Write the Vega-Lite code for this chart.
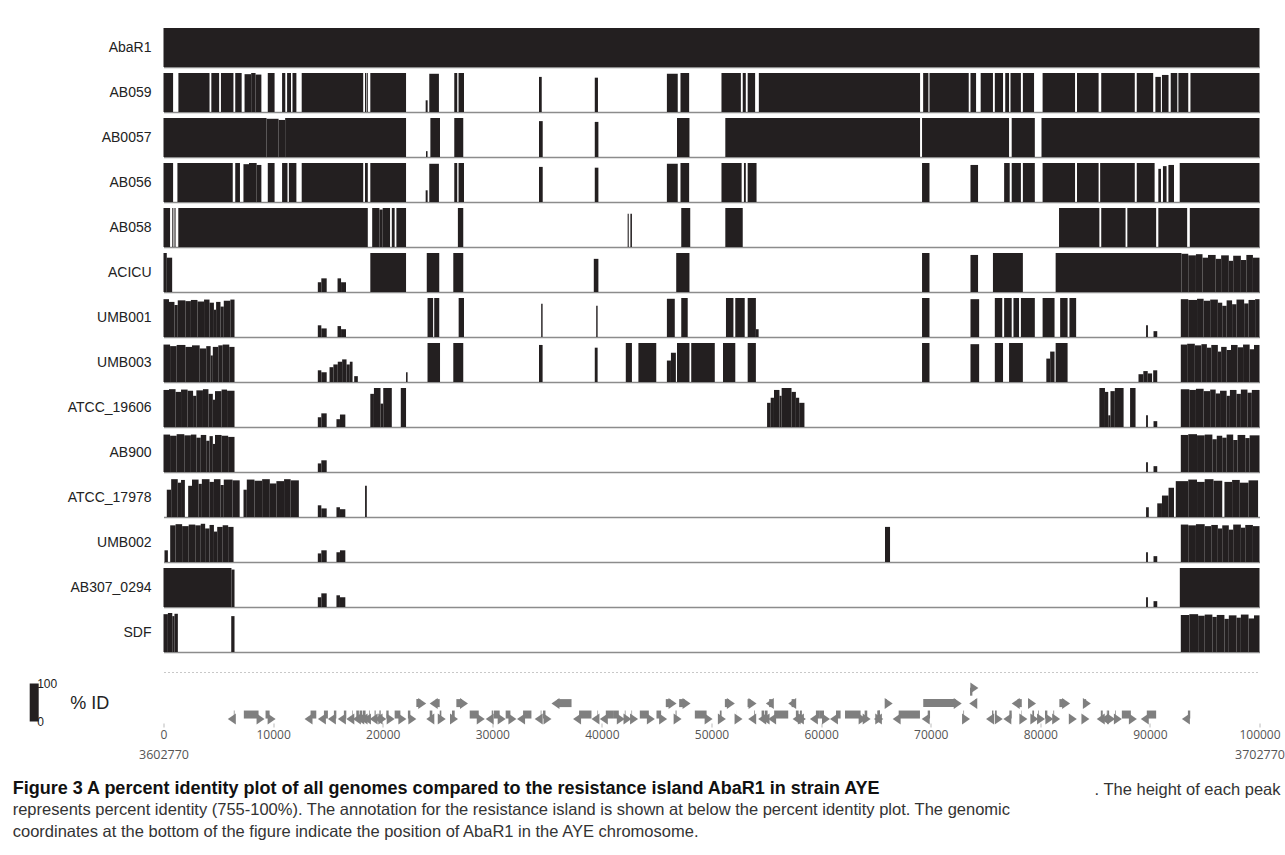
{
"$schema": "https://vega.github.io/schema/vega-lite/v6.json",
"padding": {"left": 12.5, "top": 28, "right": 0, "bottom": 0},
"background": "white",
"config": {"view": {"stroke": null}, "font": "Liberation Sans", "axis": {"grid": false}},
"spacing": 20,
"title": {
  "text": "Figure 3 A percent identity plot of all genomes compared to the resistance island AbaR1 in strain AYE",
  "subtitle": ["represents percent identity (755-100%). The annotation for the resistance island is shown at below the percent identity plot. The genomic", "coordinates at the bottom of the figure indicate the position of AbaR1 in the AYE chromosome."],
  "orient": "bottom", "anchor": "start", "frame": "bounds", "dx": -21, "offset": -18,
  "font": "Liberation Sans", "fontSize": 18, "fontWeight": "bold", "color": "#111",
  "subtitleFont": "Liberation Sans", "subtitleFontSize": 16.5, "subtitleColor": "#333", "subtitleFontWeight": "normal", "subtitleLineHeight": 22, "subtitlePadding": 4
},
"datasets": {
"legend": [{"v": 0}, {"v": 100}],
"pid": [
{"g":"AbaR1","s":0,"e":100000,"p":100},

{"g":"AB059","s":0,"e":876,"p":100},{"g":"AB059","s":1360,"e":4200,"p":100},{"g":"AB059","s":4364,"e":5077,"p":100},{"g":"AB059","s":5241,"e":6382,"p":100},{"g":"AB059","s":6546,"e":7131,"p":100},{"g":"AB059","s":7395,"e":8000,"p":97},{"g":"AB059","s":8000,"e":8400,"p":100},{"g":"AB059","s":8400,"e":8930,"p":96},{"g":"AB059","s":9514,"e":10135,"p":100},{"g":"AB059","s":10819,"e":11113,"p":100},{"g":"AB059","s":11276,"e":11632,"p":100},{"g":"AB059","s":11769,"e":12125,"p":100},{"g":"AB059","s":12610,"e":18222,"p":100},{"g":"AB059","s":18386,"e":18500,"p":100},{"g":"AB059","s":18550,"e":18641,"p":100},{"g":"AB059","s":18870,"e":22130,"p":100},{"g":"AB059","s":23920,"e":24100,"p":30},{"g":"AB059","s":24250,"e":25130,"p":98},{"g":"AB059","s":26530,"e":26800,"p":100},{"g":"AB059","s":26920,"e":27420,"p":100},{"g":"AB059","s":34260,"e":34510,"p":90},{"g":"AB059","s":39350,"e":39640,"p":88},{"g":"AB059","s":45930,"e":46920,"p":98},{"g":"AB059","s":47170,"e":47960,"p":100},{"g":"AB059","s":50910,"e":52680,"p":100},{"g":"AB059","s":52850,"e":53130,"p":100},{"g":"AB059","s":53300,"e":53980,"p":100},{"g":"AB059","s":54320,"e":69030,"p":100},{"g":"AB059","s":69310,"e":69790,"p":100},{"g":"AB059","s":69890,"e":73470,"p":100},{"g":"AB059","s":73630,"e":74140,"p":100},{"g":"AB059","s":74560,"e":75680,"p":100},{"g":"AB059","s":75850,"e":76600,"p":100},{"g":"AB059","s":76800,"e":77150,"p":100},{"g":"AB059","s":77280,"e":78230,"p":100},{"g":"AB059","s":78410,"e":79430,"p":100},{"g":"AB059","s":80210,"e":83170,"p":100},{"g":"AB059","s":83350,"e":85320,"p":100},{"g":"AB059","s":85560,"e":88620,"p":100},{"g":"AB059","s":88800,"e":90300,"p":100},{"g":"AB059","s":90500,"e":91000,"p":90},{"g":"AB059","s":91100,"e":91700,"p":95},{"g":"AB059","s":91900,"e":92500,"p":100},{"g":"AB059","s":92600,"e":93500,"p":100},{"g":"AB059","s":93700,"e":100000,"p":100},

{"g":"AB0057","s":0,"e":9400,"p":100},{"g":"AB0057","s":9400,"e":10500,"p":98},{"g":"AB0057","s":10500,"e":11100,"p":95},{"g":"AB0057","s":11100,"e":22130,"p":100},{"g":"AB0057","s":23950,"e":24090,"p":15},{"g":"AB0057","s":24350,"e":25230,"p":100},{"g":"AB0057","s":26530,"e":27350,"p":100},{"g":"AB0057","s":34260,"e":34600,"p":92},{"g":"AB0057","s":39350,"e":39680,"p":90},{"g":"AB0057","s":46850,"e":47990,"p":100},{"g":"AB0057","s":51260,"e":69030,"p":100},{"g":"AB0057","s":69210,"e":77150,"p":100},{"g":"AB0057","s":77390,"e":79500,"p":100},{"g":"AB0057","s":80110,"e":100000,"p":100},

{"g":"AB056","s":0,"e":876,"p":100},{"g":"AB056","s":1270,"e":6318,"p":100},{"g":"AB056","s":6546,"e":6976,"p":100},{"g":"AB056","s":7295,"e":7800,"p":97},{"g":"AB056","s":7800,"e":8500,"p":100},{"g":"AB056","s":8500,"e":8930,"p":95},{"g":"AB056","s":9514,"e":10135,"p":100},{"g":"AB056","s":10819,"e":11312,"p":100},{"g":"AB056","s":11440,"e":12125,"p":100},{"g":"AB056","s":12610,"e":18222,"p":100},{"g":"AB056","s":18386,"e":18641,"p":100},{"g":"AB056","s":18870,"e":22130,"p":100},{"g":"AB056","s":23920,"e":24100,"p":30},{"g":"AB056","s":24250,"e":25130,"p":98},{"g":"AB056","s":26530,"e":26800,"p":100},{"g":"AB056","s":26920,"e":27420,"p":100},{"g":"AB056","s":34260,"e":34600,"p":90},{"g":"AB056","s":39350,"e":39680,"p":88},{"g":"AB056","s":45930,"e":46920,"p":98},{"g":"AB056","s":47170,"e":47960,"p":100},{"g":"AB056","s":50910,"e":52750,"p":100},{"g":"AB056","s":52960,"e":53130,"p":100},{"g":"AB056","s":53300,"e":54110,"p":100},{"g":"AB056","s":69210,"e":69890,"p":100},{"g":"AB056","s":73630,"e":74320,"p":95},{"g":"AB056","s":76700,"e":77210,"p":100},{"g":"AB056","s":77390,"e":78230,"p":100},{"g":"AB056","s":78410,"e":79500,"p":100},{"g":"AB056","s":80210,"e":83170,"p":100},{"g":"AB056","s":83350,"e":85320,"p":100},{"g":"AB056","s":85460,"e":88620,"p":100},{"g":"AB056","s":88800,"e":90430,"p":100},{"g":"AB056","s":90770,"e":91010,"p":85},{"g":"AB056","s":91190,"e":91520,"p":92},{"g":"AB056","s":91690,"e":92200,"p":95},{"g":"AB056","s":92720,"e":100000,"p":100},

{"g":"AB058","s":0,"e":600,"p":100},{"g":"AB058","s":800,"e":900,"p":100},{"g":"AB058","s":1000,"e":1100,"p":100},{"g":"AB058","s":1350,"e":18640,"p":100},{"g":"AB058","s":19040,"e":19700,"p":100},{"g":"AB058","s":19700,"e":20000,"p":96},{"g":"AB058","s":20000,"e":20670,"p":100},{"g":"AB058","s":20830,"e":21090,"p":100},{"g":"AB058","s":21250,"e":22130,"p":100},{"g":"AB058","s":26860,"e":27350,"p":100},{"g":"AB058","s":42350,"e":42450,"p":85},{"g":"AB058","s":42600,"e":42740,"p":85},{"g":"AB058","s":47240,"e":48060,"p":100},{"g":"AB058","s":51260,"e":52850,"p":100},{"g":"AB058","s":81710,"e":85390,"p":100},{"g":"AB058","s":85560,"e":87780,"p":100},{"g":"AB058","s":87940,"e":90570,"p":100},{"g":"AB058","s":90770,"e":93400,"p":100},{"g":"AB058","s":93640,"e":100000,"p":100},

{"g":"ACICU","s":0,"e":300,"p":100},{"g":"ACICU","s":300,"e":790,"p":88},{"g":"ACICU","s":14080,"e":14400,"p":25},{"g":"ACICU","s":14400,"e":14890,"p":35},{"g":"ACICU","s":15880,"e":16200,"p":35},{"g":"ACICU","s":16200,"e":16650,"p":25},{"g":"ACICU","s":18870,"e":22130,"p":100},{"g":"ACICU","s":24020,"e":25160,"p":100},{"g":"ACICU","s":26440,"e":27350,"p":100},{"g":"ACICU","s":39260,"e":39680,"p":85},{"g":"ACICU","s":46780,"e":47990,"p":100},{"g":"ACICU","s":69210,"e":69890,"p":100},{"g":"ACICU","s":73630,"e":74320,"p":95},{"g":"ACICU","s":75680,"e":78410,"p":100},{"g":"ACICU","s":81400,"e":92880,"p":100},{"g":"ACICU","s":92880,"e":93500,"p":98},{"g":"ACICU","s":93500,"e":94200,"p":94},{"g":"ACICU","s":94200,"e":94800,"p":97},{"g":"ACICU","s":94800,"e":95300,"p":88},{"g":"ACICU","s":95300,"e":96000,"p":95},{"g":"ACICU","s":96000,"e":96500,"p":85},{"g":"ACICU","s":96500,"e":97200,"p":94},{"g":"ACICU","s":97200,"e":97600,"p":80},{"g":"ACICU","s":97600,"e":98300,"p":93},{"g":"ACICU","s":98300,"e":98800,"p":82},{"g":"ACICU","s":98800,"e":99400,"p":95},{"g":"ACICU","s":99400,"e":100000,"p":88},

{"g":"UMB001","s":0,"e":500,"p":97},{"g":"UMB001","s":500,"e":1000,"p":90},{"g":"UMB001","s":1000,"e":1300,"p":82},{"g":"UMB001","s":1300,"e":2000,"p":94},{"g":"UMB001","s":2000,"e":2500,"p":92},{"g":"UMB001","s":2500,"e":3100,"p":95},{"g":"UMB001","s":3100,"e":3700,"p":91},{"g":"UMB001","s":3700,"e":4200,"p":96},{"g":"UMB001","s":4200,"e":4600,"p":88},{"g":"UMB001","s":4600,"e":4800,"p":70},{"g":"UMB001","s":4800,"e":5200,"p":90},{"g":"UMB001","s":5200,"e":5500,"p":78},{"g":"UMB001","s":5500,"e":6100,"p":93},{"g":"UMB001","s":6100,"e":6480,"p":96},{"g":"UMB001","s":14080,"e":14400,"p":30},{"g":"UMB001","s":14400,"e":14890,"p":22},{"g":"UMB001","s":15880,"e":16200,"p":28},{"g":"UMB001","s":16200,"e":16650,"p":20},{"g":"UMB001","s":24090,"e":24600,"p":100},{"g":"UMB001","s":24700,"e":25160,"p":100},{"g":"UMB001","s":26930,"e":27420,"p":100},{"g":"UMB001","s":34460,"e":34590,"p":85},{"g":"UMB001","s":39480,"e":39610,"p":80},{"g":"UMB001","s":45930,"e":46650,"p":98},{"g":"UMB001","s":47240,"e":47830,"p":100},{"g":"UMB001","s":51320,"e":52000,"p":100},{"g":"UMB001","s":52170,"e":53030,"p":100},{"g":"UMB001","s":53300,"e":54050,"p":100},{"g":"UMB001","s":54050,"e":54300,"p":20},{"g":"UMB001","s":69210,"e":69890,"p":100},{"g":"UMB001","s":73630,"e":74420,"p":97},{"g":"UMB001","s":75850,"e":76530,"p":100},{"g":"UMB001","s":76700,"e":77390,"p":100},{"g":"UMB001","s":77550,"e":78060,"p":100},{"g":"UMB001","s":78230,"e":79500,"p":100},{"g":"UMB001","s":80210,"e":81300,"p":100},{"g":"UMB001","s":81810,"e":82490,"p":100},{"g":"UMB001","s":82660,"e":83270,"p":100},{"g":"UMB001","s":89650,"e":89820,"p":30},{"g":"UMB001","s":90330,"e":90670,"p":15},{"g":"UMB001","s":92820,"e":93500,"p":97},{"g":"UMB001","s":93500,"e":94300,"p":95},{"g":"UMB001","s":94300,"e":94900,"p":98},{"g":"UMB001","s":94900,"e":95500,"p":93},{"g":"UMB001","s":95500,"e":96200,"p":96},{"g":"UMB001","s":96200,"e":96600,"p":88},{"g":"UMB001","s":96600,"e":97000,"p":80},{"g":"UMB001","s":97000,"e":97500,"p":94},{"g":"UMB001","s":97500,"e":97900,"p":84},{"g":"UMB001","s":97900,"e":98600,"p":96},{"g":"UMB001","s":98600,"e":99000,"p":86},{"g":"UMB001","s":99000,"e":99600,"p":95},{"g":"UMB001","s":99600,"e":100000,"p":97},

{"g":"UMB003","s":0,"e":600,"p":96},{"g":"UMB003","s":600,"e":1200,"p":92},{"g":"UMB003","s":1200,"e":2000,"p":95},{"g":"UMB003","s":2000,"e":2600,"p":90},{"g":"UMB003","s":2600,"e":3300,"p":94},{"g":"UMB003","s":3300,"e":3900,"p":86},{"g":"UMB003","s":3900,"e":4300,"p":92},{"g":"UMB003","s":4300,"e":4500,"p":68},{"g":"UMB003","s":4500,"e":5000,"p":90},{"g":"UMB003","s":5000,"e":5400,"p":94},{"g":"UMB003","s":5400,"e":6000,"p":96},{"g":"UMB003","s":6000,"e":6480,"p":90},{"g":"UMB003","s":14080,"e":14400,"p":30},{"g":"UMB003","s":14400,"e":14890,"p":25},{"g":"UMB003","s":15150,"e":15500,"p":38},{"g":"UMB003","s":15500,"e":15900,"p":45},{"g":"UMB003","s":15900,"e":16300,"p":52},{"g":"UMB003","s":16300,"e":16700,"p":58},{"g":"UMB003","s":16700,"e":17000,"p":45},{"g":"UMB003","s":17000,"e":17250,"p":52},{"g":"UMB003","s":17400,"e":17730,"p":15},{"g":"UMB003","s":22130,"e":22270,"p":25},{"g":"UMB003","s":24090,"e":25230,"p":100},{"g":"UMB003","s":26440,"e":27350,"p":100},{"g":"UMB003","s":34260,"e":34590,"p":95},{"g":"UMB003","s":39350,"e":39610,"p":88},{"g":"UMB003","s":42180,"e":42740,"p":100},{"g":"UMB003","s":43330,"e":44960,"p":100},{"g":"UMB003","s":45930,"e":46300,"p":55},{"g":"UMB003","s":46300,"e":46750,"p":75},{"g":"UMB003","s":46850,"e":47990,"p":100},{"g":"UMB003","s":48150,"e":50300,"p":100},{"g":"UMB003","s":51050,"e":52170,"p":100},{"g":"UMB003","s":53300,"e":54050,"p":100},{"g":"UMB003","s":69210,"e":69890,"p":100},{"g":"UMB003","s":73630,"e":74420,"p":97},{"g":"UMB003","s":75850,"e":76600,"p":100},{"g":"UMB003","s":77150,"e":78410,"p":100},{"g":"UMB003","s":80550,"e":80900,"p":60},{"g":"UMB003","s":80900,"e":81300,"p":78},{"g":"UMB003","s":81400,"e":82490,"p":100},{"g":"UMB003","s":88960,"e":89400,"p":20},{"g":"UMB003","s":89400,"e":89800,"p":28},{"g":"UMB003","s":89800,"e":90200,"p":22},{"g":"UMB003","s":90300,"e":90670,"p":30},{"g":"UMB003","s":92820,"e":93400,"p":96},{"g":"UMB003","s":93400,"e":94100,"p":98},{"g":"UMB003","s":94100,"e":94700,"p":94},{"g":"UMB003","s":94700,"e":95200,"p":97},{"g":"UMB003","s":95200,"e":95600,"p":88},{"g":"UMB003","s":95600,"e":96200,"p":95},{"g":"UMB003","s":96200,"e":96500,"p":78},{"g":"UMB003","s":96500,"e":97000,"p":90},{"g":"UMB003","s":97000,"e":97400,"p":82},{"g":"UMB003","s":97400,"e":98000,"p":95},{"g":"UMB003","s":98000,"e":98500,"p":89},{"g":"UMB003","s":98500,"e":99100,"p":96},{"g":"UMB003","s":99100,"e":99500,"p":84},{"g":"UMB003","s":99500,"e":100000,"p":95},

{"g":"ATCC_19606","s":0,"e":500,"p":95},{"g":"ATCC_19606","s":500,"e":1100,"p":97},{"g":"ATCC_19606","s":1100,"e":1600,"p":90},{"g":"ATCC_19606","s":1600,"e":2200,"p":96},{"g":"ATCC_19606","s":2200,"e":2700,"p":93},{"g":"ATCC_19606","s":2700,"e":3000,"p":80},{"g":"ATCC_19606","s":3000,"e":3600,"p":94},{"g":"ATCC_19606","s":3600,"e":4100,"p":97},{"g":"ATCC_19606","s":4100,"e":4500,"p":85},{"g":"ATCC_19606","s":4500,"e":4700,"p":70},{"g":"ATCC_19606","s":4700,"e":5300,"p":92},{"g":"ATCC_19606","s":5300,"e":5800,"p":96},{"g":"ATCC_19606","s":5800,"e":6480,"p":93},{"g":"ATCC_19606","s":14080,"e":14400,"p":25},{"g":"ATCC_19606","s":14400,"e":14890,"p":35},{"g":"ATCC_19606","s":15780,"e":16100,"p":20},{"g":"ATCC_19606","s":16100,"e":16590,"p":32},{"g":"ATCC_19606","s":18870,"e":19200,"p":85},{"g":"ATCC_19606","s":19200,"e":19800,"p":100},{"g":"ATCC_19606","s":19800,"e":20050,"p":60},{"g":"ATCC_19606","s":20050,"e":20830,"p":100},{"g":"ATCC_19606","s":21650,"e":22130,"p":100},{"g":"ATCC_19606","s":55070,"e":55400,"p":62},{"g":"ATCC_19606","s":55400,"e":55700,"p":75},{"g":"ATCC_19606","s":55700,"e":56200,"p":95},{"g":"ATCC_19606","s":56200,"e":56400,"p":80},{"g":"ATCC_19606","s":56400,"e":57300,"p":100},{"g":"ATCC_19606","s":57300,"e":57700,"p":90},{"g":"ATCC_19606","s":57700,"e":58000,"p":75},{"g":"ATCC_19606","s":58000,"e":58480,"p":62},{"g":"ATCC_19606","s":85390,"e":85900,"p":100},{"g":"ATCC_19606","s":85900,"e":86200,"p":90},{"g":"ATCC_19606","s":86200,"e":86400,"p":30},{"g":"ATCC_19606","s":86400,"e":86800,"p":92},{"g":"ATCC_19606","s":86800,"e":87600,"p":100},{"g":"ATCC_19606","s":88190,"e":88690,"p":100},{"g":"ATCC_19606","s":89650,"e":89820,"p":30},{"g":"ATCC_19606","s":90330,"e":90670,"p":15},{"g":"ATCC_19606","s":92820,"e":93600,"p":97},{"g":"ATCC_19606","s":93600,"e":94200,"p":95},{"g":"ATCC_19606","s":94200,"e":94900,"p":98},{"g":"ATCC_19606","s":94900,"e":95500,"p":92},{"g":"ATCC_19606","s":95500,"e":96000,"p":96},{"g":"ATCC_19606","s":96000,"e":96400,"p":86},{"g":"ATCC_19606","s":96400,"e":97000,"p":93},{"g":"ATCC_19606","s":97000,"e":97300,"p":80},{"g":"ATCC_19606","s":97300,"e":97900,"p":95},{"g":"ATCC_19606","s":97900,"e":98300,"p":85},{"g":"ATCC_19606","s":98300,"e":98900,"p":96},{"g":"ATCC_19606","s":98900,"e":99300,"p":88},{"g":"ATCC_19606","s":99300,"e":100000,"p":95},

{"g":"AB900","s":0,"e":600,"p":96},{"g":"AB900","s":600,"e":1200,"p":93},{"g":"AB900","s":1200,"e":1900,"p":97},{"g":"AB900","s":1900,"e":2500,"p":94},{"g":"AB900","s":2500,"e":3000,"p":96},{"g":"AB900","s":3000,"e":3400,"p":88},{"g":"AB900","s":3400,"e":3900,"p":95},{"g":"AB900","s":3900,"e":4200,"p":80},{"g":"AB900","s":4200,"e":4500,"p":92},{"g":"AB900","s":4500,"e":4700,"p":72},{"g":"AB900","s":4700,"e":5300,"p":95},{"g":"AB900","s":5300,"e":5900,"p":93},{"g":"AB900","s":5900,"e":6480,"p":90},{"g":"AB900","s":14080,"e":14400,"p":22},{"g":"AB900","s":14400,"e":14890,"p":30},{"g":"AB900","s":89650,"e":89820,"p":25},{"g":"AB900","s":90330,"e":90670,"p":15},{"g":"AB900","s":92820,"e":93500,"p":95},{"g":"AB900","s":93500,"e":94300,"p":97},{"g":"AB900","s":94300,"e":95000,"p":94},{"g":"AB900","s":95000,"e":95700,"p":96},{"g":"AB900","s":95700,"e":96100,"p":84},{"g":"AB900","s":96100,"e":96600,"p":93},{"g":"AB900","s":96600,"e":97000,"p":88},{"g":"AB900","s":97000,"e":97600,"p":96},{"g":"AB900","s":97600,"e":98000,"p":82},{"g":"AB900","s":98000,"e":98700,"p":95},{"g":"AB900","s":98700,"e":99100,"p":87},{"g":"AB900","s":99100,"e":100000,"p":94},

{"g":"ATCC_17978","s":300,"e":700,"p":70},{"g":"ATCC_17978","s":700,"e":1300,"p":97},{"g":"ATCC_17978","s":1300,"e":1600,"p":88},{"g":"ATCC_17978","s":1600,"e":1950,"p":95},{"g":"ATCC_17978","s":2250,"e":2600,"p":80},{"g":"ATCC_17978","s":2600,"e":3200,"p":96},{"g":"ATCC_17978","s":3200,"e":3500,"p":85},{"g":"ATCC_17978","s":3500,"e":4200,"p":97},{"g":"ATCC_17978","s":4200,"e":4600,"p":90},{"g":"ATCC_17978","s":4600,"e":5200,"p":97},{"g":"ATCC_17978","s":5200,"e":5500,"p":82},{"g":"ATCC_17978","s":5500,"e":6300,"p":96},{"g":"ATCC_17978","s":6300,"e":6950,"p":94},{"g":"ATCC_17978","s":7300,"e":7600,"p":70},{"g":"ATCC_17978","s":7600,"e":8300,"p":96},{"g":"ATCC_17978","s":8300,"e":9000,"p":93},{"g":"ATCC_17978","s":9000,"e":9700,"p":97},{"g":"ATCC_17978","s":9700,"e":10300,"p":86},{"g":"ATCC_17978","s":10300,"e":11000,"p":92},{"g":"ATCC_17978","s":11000,"e":11600,"p":97},{"g":"ATCC_17978","s":11600,"e":12350,"p":94},{"g":"ATCC_17978","s":14080,"e":14400,"p":30},{"g":"ATCC_17978","s":14400,"e":14890,"p":22},{"g":"ATCC_17978","s":15780,"e":16100,"p":25},{"g":"ATCC_17978","s":16100,"e":16590,"p":20},{"g":"ATCC_17978","s":18390,"e":18550,"p":80},{"g":"ATCC_17978","s":89650,"e":89900,"p":25},{"g":"ATCC_17978","s":90670,"e":91100,"p":35},{"g":"ATCC_17978","s":91100,"e":91700,"p":55},{"g":"ATCC_17978","s":91700,"e":92200,"p":75},{"g":"ATCC_17978","s":92360,"e":93500,"p":92},{"g":"ATCC_17978","s":93500,"e":94300,"p":96},{"g":"ATCC_17978","s":94300,"e":95000,"p":90},{"g":"ATCC_17978","s":95000,"e":95800,"p":97},{"g":"ATCC_17978","s":95800,"e":96600,"p":93},{"g":"ATCC_17978","s":96800,"e":97500,"p":90},{"g":"ATCC_17978","s":97500,"e":98200,"p":95},{"g":"ATCC_17978","s":98200,"e":99000,"p":88},{"g":"ATCC_17978","s":99000,"e":99870,"p":94},

{"g":"UMB002","s":90,"e":400,"p":30},{"g":"UMB002","s":610,"e":1100,"p":94},{"g":"UMB002","s":1100,"e":1700,"p":97},{"g":"UMB002","s":1700,"e":2300,"p":92},{"g":"UMB002","s":2300,"e":2900,"p":96},{"g":"UMB002","s":2900,"e":3400,"p":94},{"g":"UMB002","s":3400,"e":3800,"p":98},{"g":"UMB002","s":3800,"e":4200,"p":86},{"g":"UMB002","s":4200,"e":4600,"p":95},{"g":"UMB002","s":4600,"e":4900,"p":78},{"g":"UMB002","s":4900,"e":5400,"p":90},{"g":"UMB002","s":5400,"e":5900,"p":94},{"g":"UMB002","s":5900,"e":6390,"p":90},{"g":"UMB002","s":14080,"e":14400,"p":22},{"g":"UMB002","s":14400,"e":14890,"p":30},{"g":"UMB002","s":15780,"e":16100,"p":25},{"g":"UMB002","s":16100,"e":16590,"p":30},{"g":"UMB002","s":65830,"e":66290,"p":90},{"g":"UMB002","s":89650,"e":89820,"p":25},{"g":"UMB002","s":90330,"e":90670,"p":15},{"g":"UMB002","s":92820,"e":93500,"p":96},{"g":"UMB002","s":93500,"e":94200,"p":94},{"g":"UMB002","s":94200,"e":95000,"p":97},{"g":"UMB002","s":95000,"e":95600,"p":92},{"g":"UMB002","s":95600,"e":96200,"p":95},{"g":"UMB002","s":96200,"e":96600,"p":86},{"g":"UMB002","s":96600,"e":97200,"p":94},{"g":"UMB002","s":97200,"e":97600,"p":83},{"g":"UMB002","s":97600,"e":98300,"p":96},{"g":"UMB002","s":98300,"e":98700,"p":88},{"g":"UMB002","s":98700,"e":99400,"p":95},{"g":"UMB002","s":99400,"e":100000,"p":92},

{"g":"AB307_0294","s":0,"e":6200,"p":100},{"g":"AB307_0294","s":6200,"e":6480,"p":96},{"g":"AB307_0294","s":14080,"e":14400,"p":25},{"g":"AB307_0294","s":14400,"e":14890,"p":35},{"g":"AB307_0294","s":15780,"e":16100,"p":30},{"g":"AB307_0294","s":16100,"e":16590,"p":25},{"g":"AB307_0294","s":89650,"e":89820,"p":25},{"g":"AB307_0294","s":90330,"e":90670,"p":15},{"g":"AB307_0294","s":92730,"e":100000,"p":100},

{"g":"SDF","s":0,"e":400,"p":97},{"g":"SDF","s":400,"e":800,"p":100},{"g":"SDF","s":800,"e":1000,"p":92},{"g":"SDF","s":1000,"e":1310,"p":98},{"g":"SDF","s":6180,"e":6480,"p":92},{"g":"SDF","s":92820,"e":93600,"p":95},{"g":"SDF","s":93600,"e":94400,"p":97},{"g":"SDF","s":94400,"e":95000,"p":93},{"g":"SDF","s":95000,"e":95700,"p":96},{"g":"SDF","s":95700,"e":96100,"p":90},{"g":"SDF","s":96100,"e":96800,"p":95},{"g":"SDF","s":96800,"e":97200,"p":85},{"g":"SDF","s":97200,"e":97900,"p":94},{"g":"SDF","s":97900,"e":98300,"p":88},{"g":"SDF","s":98300,"e":99000,"p":96},{"g":"SDF","s":99000,"e":99500,"p":86},{"g":"SDF","s":99500,"e":100000,"p":94}
],
"genes": [
{"lane":3,"s":73590,"e":74350,"d":"R"},
{"lane":2,"s":23070,"e":23970,"d":"R"},{"lane":2,"s":24290,"e":25200,"d":"L"},{"lane":2,"s":26720,"e":27780,"d":"R"},{"lane":2,"s":35400,"e":37230,"d":"L"},{"lane":2,"s":45830,"e":46810,"d":"R"},{"lane":2,"s":47050,"e":48090,"d":"R"},{"lane":2,"s":51220,"e":52130,"d":"R"},{"lane":2,"s":53290,"e":54110,"d":"R"},{"lane":2,"s":54960,"e":55260,"d":"L"},{"lane":2,"s":57000,"e":57310,"d":"L"},{"lane":2,"s":65920,"e":66530,"d":"R"},{"lane":2,"s":69320,"e":72830,"d":"R"},{"lane":2,"s":73520,"e":74200,"d":"L"},{"lane":2,"s":77390,"e":78310,"d":"L"},{"lane":2,"s":78910,"e":79610,"d":"R"},{"lane":2,"s":81740,"e":82720,"d":"R"},{"lane":2,"s":84180,"e":84610,"d":"R"},
{"lane":1,"s":5870,"e":6480,"d":"L"},{"lane":1,"s":7330,"e":9220,"d":"R"},{"lane":1,"s":9310,"e":10230,"d":"R"},{"lane":1,"s":12870,"e":13940,"d":"L"},{"lane":1,"s":14090,"e":15000,"d":"L"},{"lane":1,"s":15000,"e":15770,"d":"L"},{"lane":1,"s":15910,"e":16680,"d":"L"},{"lane":1,"s":16680,"e":17280,"d":"L"},{"lane":1,"s":17280,"e":17590,"d":"L"},{"lane":1,"s":17590,"e":17890,"d":"L"},{"lane":1,"s":17890,"e":18200,"d":"L"},{"lane":1,"s":18200,"e":18810,"d":"L"},{"lane":1,"s":18810,"e":19260,"d":"L"},{"lane":1,"s":19260,"e":19720,"d":"L"},{"lane":1,"s":19720,"e":20330,"d":"R"},{"lane":1,"s":20330,"e":21090,"d":"R"},{"lane":1,"s":21090,"e":22160,"d":"R"},{"lane":1,"s":22300,"e":23070,"d":"R"},{"lane":1,"s":23980,"e":24290,"d":"L"},{"lane":1,"s":25350,"e":25750,"d":"R"},{"lane":1,"s":26570,"e":26870,"d":"R"},{"lane":1,"s":27940,"e":29310,"d":"R"},{"lane":1,"s":29400,"e":30060,"d":"L"},{"lane":1,"s":30130,"e":31220,"d":"R"},{"lane":1,"s":31220,"e":32200,"d":"R"},{"lane":1,"s":32260,"e":33570,"d":"L"},{"lane":1,"s":33870,"e":34480,"d":"L"},{"lane":1,"s":34630,"e":35400,"d":"R"},{"lane":1,"s":37370,"e":39050,"d":"L"},{"lane":1,"s":39050,"e":39650,"d":"L"},{"lane":1,"s":39810,"e":41020,"d":"L"},{"lane":1,"s":41020,"e":42090,"d":"R"},{"lane":1,"s":42090,"e":42700,"d":"R"},{"lane":1,"s":42700,"e":43300,"d":"R"},{"lane":1,"s":43460,"e":44830,"d":"R"},{"lane":1,"s":44980,"e":45950,"d":"R"},{"lane":1,"s":46810,"e":47270,"d":"R"},{"lane":1,"s":48480,"e":50100,"d":"R"},{"lane":1,"s":50920,"e":51310,"d":"R"},{"lane":1,"s":52290,"e":52830,"d":"R"},{"lane":1,"s":53350,"e":53960,"d":"L"},{"lane":1,"s":54260,"e":54570,"d":"L"},{"lane":1,"s":54570,"e":54870,"d":"L"},{"lane":1,"s":55170,"e":57000,"d":"L"},{"lane":1,"s":57400,"e":57700,"d":"L"},{"lane":1,"s":57700,"e":58070,"d":"L"},{"lane":1,"s":58070,"e":58610,"d":"R"},{"lane":1,"s":58980,"e":59890,"d":"L"},{"lane":1,"s":59890,"e":60810,"d":"R"},{"lane":1,"s":60810,"e":61780,"d":"L"},{"lane":1,"s":62180,"e":64150,"d":"R"},{"lane":1,"s":64210,"e":64520,"d":"R"},{"lane":1,"s":64820,"e":65220,"d":"L"},{"lane":1,"s":65370,"e":65670,"d":"R"},{"lane":1,"s":66530,"e":69020,"d":"L"},{"lane":1,"s":69180,"e":69940,"d":"L"},{"lane":1,"s":72980,"e":73590,"d":"R"},{"lane":1,"s":75050,"e":75720,"d":"L"},{"lane":1,"s":75870,"e":76570,"d":"R"},{"lane":1,"s":76630,"e":77390,"d":"L"},{"lane":1,"s":78310,"e":78820,"d":"R"},{"lane":1,"s":79430,"e":79820,"d":"R"},{"lane":1,"s":79820,"e":80430,"d":"R"},{"lane":1,"s":80430,"e":81190,"d":"R"},{"lane":1,"s":81190,"e":81810,"d":"R"},{"lane":1,"s":82780,"e":83330,"d":"R"},{"lane":1,"s":83930,"e":84480,"d":"R"},{"lane":1,"s":85150,"e":85520,"d":"L"},{"lane":1,"s":85520,"e":86120,"d":"L"},{"lane":1,"s":86120,"e":86830,"d":"R"},{"lane":1,"s":86830,"e":87440,"d":"R"},{"lane":1,"s":87440,"e":88810,"d":"R"},{"lane":1,"s":89170,"e":90570,"d":"L"},{"lane":1,"s":92920,"e":93680,"d":"L"}
]
},
"vconcat": [
{
  "data": {"name": "pid"},
  "facet": {"row": {"field": "g", "type": "nominal", "title": null,
    "sort": ["AbaR1","AB059","AB0057","AB056","AB058","ACICU","UMB001","UMB003","ATCC_19606","AB900","ATCC_17978","UMB002","AB307_0294","SDF"],
    "header": {"labelAngle": 0, "labelAlign": "left", "labelBaseline": "middle", "labelFont": "Liberation Sans", "labelFontSize": 14, "labelColor": "#222", "labelPadding": 12}}},
  "spacing": 6,
  "resolve": {"axis": {"x": "independent"}},
  "spec": {
    "width": 1096, "height": 39,
    "mark": {"type": "rect", "color": "#231f20"},
    "encoding": {
      "x": {"field": "s", "type": "quantitative", "scale": {"domain": [0, 100000]}, "axis": {"title": null, "labels": false, "ticks": false, "domainColor": "#8c8c8c", "domainWidth": 1.5}},
      "x2": {"field": "e"},
      "y": {"field": "p", "type": "quantitative", "scale": {"domain": [0, 100]}, "axis": null},
      "y2": {"datum": 0}
    }
  }
},
{
  "width": 1096, "height": 38,
  "title": {"text": ". The height of each peak", "orient": "bottom", "anchor": "end", "frame": "group", "dx": 21, "offset": 21, "font": "Liberation Sans", "fontSize": 16.5, "fontWeight": "normal", "color": "#333"},
  "resolve": {"scale": {"y": "independent"}, "axis": {"x": "independent", "y": "independent"}},
  "layer": [
    {
      "data": {"name": "legend"},
      "mark": {"type": "rule", "opacity": 0},
      "encoding": {
        "y": {"field": "v", "type": "quantitative", "scale": {"domain": [0, 100]},
          "axis": {"orient": "right", "offset": -1225.8, "values": [0, 100], "domainWidth": 9, "domainColor": "#231f20", "ticks": false, "labelPadding": 3, "labelFontSize": 12, "labelColor": "#222", "labelFont": "Liberation Sans", "title": "% ID", "titleAngle": 0, "titleAlign": "left", "titleBaseline": "middle", "titleX": 36, "titleY": 20, "titleFontSize": 18, "titleFontWeight": "normal", "titleColor": "#222", "titleFont": "Liberation Sans"}}
      }
    },
    {
      "data": {"name": "genes"},
      "transform": [{"filter": "datum.d == 'R'"}],
      "mark": {"type": "bar", "orient": "horizontal", "height": 8, "x2Offset": -6, "color": "#7f7f7f"},
      "encoding": {
        "x": {"field": "s", "type": "quantitative", "scale": {"domain": [0, 100000]},
          "axis": {"orient": "bottom", "values": [0,10000,20000,30000,40000,50000,60000,70000,80000,90000,100000], "format": "d", "offset": 2, "tickSize": 4, "tickColor": "#bbbbbb", "domain": false, "labelPadding": 2, "labelFont": "Open Sans", "labelFontSize": 12, "labelColor": "#555", "title": null, "labelFlush": false, "labelOverlap": false}},
        "x2": {"field": "e"},
        "y": {"field": "lane", "type": "quantitative", "scale": {"domain": [0.871, 3.323]}, "axis": null}
      }
    },
    {
      "data": {"name": "genes"},
      "transform": [{"filter": "datum.d == 'L'"}],
      "mark": {"type": "bar", "orient": "horizontal", "height": 8, "xOffset": 6, "color": "#7f7f7f"},
      "encoding": {
        "x": {"field": "s", "type": "quantitative", "scale": {"domain": [0, 100000]},
          "axis": {"orient": "top", "offset": 11, "domainDash": [2, 2], "domainColor": "#c8c8c8", "ticks": false, "labels": false, "title": null}},
        "x2": {"field": "e"},
        "y": {"field": "lane", "type": "quantitative", "scale": {"domain": [0.871, 3.323]}, "axis": null}
      }
    },
    {
      "data": {"name": "genes"},
      "transform": [{"filter": "datum.d == 'R'"}],
      "mark": {"type": "point", "filled": true, "opacity": 1, "shape": "M-1.45,-1L0,0L-1.45,1Z", "size": 121, "color": "#7f7f7f", "strokeWidth": 0},
      "encoding": {
        "x": {"field": "e", "type": "quantitative", "scale": {"domain": [0, 100000]},
          "axis": {"orient": "bottom", "values": [0, 100000], "labelExpr": "format(datum.value + 3602770, 'd')", "ticks": false, "domain": false, "offset": 2, "labelPadding": 25, "labelFont": "Open Sans", "labelFontSize": 12.5, "labelColor": "#555", "title": null, "labelFlush": false}},
        "y": {"field": "lane", "type": "quantitative", "scale": {"domain": [0.871, 3.323]}, "axis": null}
      }
    },
    {
      "data": {"name": "genes"},
      "transform": [{"filter": "datum.d == 'L'"}],
      "mark": {"type": "point", "filled": true, "opacity": 1, "shape": "M1.45,-1L0,0L1.45,1Z", "size": 121, "color": "#7f7f7f", "strokeWidth": 0},
      "encoding": {
        "x": {"field": "s", "type": "quantitative", "scale": {"domain": [0, 100000]}, "axis": null},
        "y": {"field": "lane", "type": "quantitative", "scale": {"domain": [0.871, 3.323]}, "axis": null}
      }
    }
  ]
}
]
}
